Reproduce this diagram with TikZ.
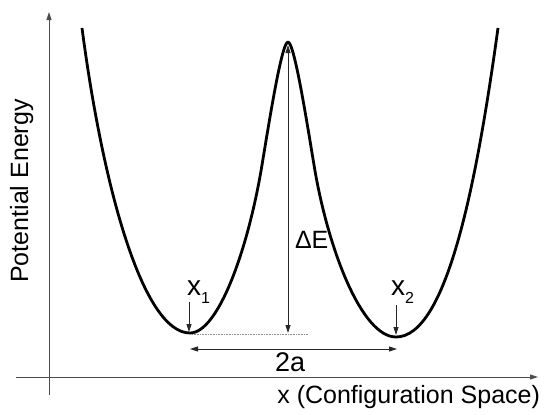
\documentclass[tikz,border=0pt]{standalone}
\usepackage{fontspec}
\setmainfont{Liberation Sans}
\usetikzlibrary{arrows.meta}
\begin{document}
\begin{tikzpicture}[x=1pt,y=-1pt,
  axisline/.style={draw=black!70,line width=1pt},
  thinarrow/.style={draw=black!85,line width=0.8pt},
  tip/.style={-{Triangle[length=8pt,width=5pt]}},
  dtip/.style={{Triangle[length=8pt,width=5pt]}-{Triangle[length=8pt,width=5pt]}},
  well/.style={draw=black,line width=2.8pt,line join=round},
  lbl/.style={inner sep=0pt,outer sep=0pt}]
\useasboundingbox (0,0) rectangle (544,415);
% axes
\coordinate (ya0) at (49,395);
\coordinate (ya1) at (49,12);
\coordinate (xa0) at (16,377);
\coordinate (xa1) at (538,377);
\draw[axisline,tip] (ya0) -- (ya1);
\draw[axisline,tip] (xa0) -- (xa1);
% curve
\coordinate (L0) at (82,28);
\coordinate (m1) at (190,333);
\coordinate (i1) at (262,165);
\coordinate (pk) at (288,42);
\coordinate (i2) at (314,165);
\coordinate (m2) at (396,337);
\coordinate (R0) at (498,28);
\draw[well] (L0) .. controls (103,188) and (143,333) .. (m1)
  .. controls (218,333) and (248,250) .. (i1)
  .. controls (270.4,114) and (282,42) .. (pk)
  .. controls (294,42) and (305.6,114) .. (i2)
  .. controls (328,250) and (362,337) .. (m2)
  .. controls (446,337) and (476,188) .. (R0);
% barrier arrow
\coordinate (pt) at (288,45);
\coordinate (pb) at (288,333);
\draw[thinarrow,dtip] (pt) -- (pb);
% dotted baseline
\coordinate (d0) at (192,334.5);
\coordinate (d1) at (308,334.5);
\draw[draw=black!45,line width=0.6pt,densely dotted] (d0) -- (d1);
% minima arrows
\coordinate (a1t) at (189,302);
\coordinate (a1b) at (189,332);
\draw[thinarrow,tip] (a1t) -- (a1b);
\coordinate (a2t) at (396,305);
\coordinate (a2b) at (396,335);
\draw[thinarrow,tip] (a2t) -- (a2b);
% 2a arrow
\coordinate (w0) at (190,349);
\coordinate (w1) at (397,349);
\draw[thinarrow,dtip] (w0) -- (w1);
% labels
\node[lbl,anchor=base west,font=\fontsize{28}{30}\selectfont] (x1) at (187,295) {x\raisebox{-8pt}{\fontsize{16}{16}\selectfont 1}};
\node[lbl,anchor=base west,font=\fontsize{28}{30}\selectfont] (x2) at (391,295) {x\raisebox{-8pt}{\fontsize{16}{16}\selectfont 2}};
\node[lbl,anchor=base west,font=\fontsize{25}{28}\selectfont] (dE) at (295,248) {ΔE};
\node[lbl,anchor=base west,font=\fontsize{27}{30}\selectfont] (twoa) at (275,371) {2a};
\node[lbl,anchor=base,rotate=90,font=\fontsize{25}{28}\selectfont] (pe) at (28,191) {Potential Energy};
\node[lbl,anchor=base east,font=\fontsize{25}{28}\selectfont] (xc) at (540,403) {x (Configuration Space)};
\end{tikzpicture}
\end{document}
